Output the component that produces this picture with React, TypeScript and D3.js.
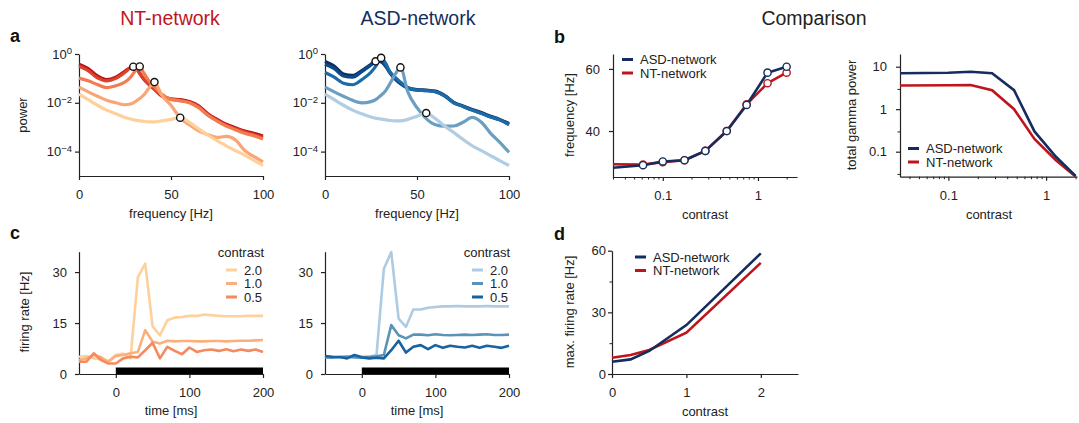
import React, { useEffect, useRef } from "react";
import * as d3 from "d3";

const FONT = "'Liberation Sans', Arial, Helvetica, sans-serif";
const INK = "#222";
const NT_RED = "#c0141c";
const ASD_NAVY = "#142d5e";

// panel a: power spectra (log10 power), one row per contrast, low -> high
const freqs = [0, 5, 10, 15, 20, 25, 28, 30, 33, 35, 38, 41, 45, 50, 55, 60, 65, 70, 75, 80, 85, 90, 95, 100];
const ntLogPower = [
  [-0.42, -0.6, -0.9, -1.05, -0.95, -0.7, -0.55, -0.52, -0.8, -1.02, -1.25, -1.45, -1.73, -1.84, -1.87, -1.95, -2.12, -2.45, -2.68, -2.88, -3.02, -3.16, -3.25, -3.36],
  [-0.5, -0.68, -0.98, -1.1, -1.0, -0.75, -0.57, -0.52, -0.78, -1.0, -1.22, -1.42, -1.7, -1.86, -1.9, -1.98, -2.15, -2.5, -2.72, -2.92, -3.06, -3.2, -3.3, -3.42],
  [-0.99, -1.1, -1.25, -1.38, -1.3, -1.15, -0.95, -0.75, -0.51, -0.75, -1.1, -1.35, -1.65, -1.86, -1.92, -2.0, -2.2, -2.5, -2.75, -2.95, -3.1, -3.25, -3.35, -3.48],
  [-1.36, -1.55, -1.73, -1.9, -2.0, -2.08, -2.05, -1.98, -1.82, -1.7, -1.4, -1.15, -1.7, -2.1, -2.62, -2.9, -3.15, -3.3, -3.42, -3.38, -3.52, -3.95, -4.2, -4.42],
  [-1.64, -1.87, -2.1, -2.3, -2.45, -2.6, -2.66, -2.7, -2.74, -2.76, -2.78, -2.78, -2.74, -2.68, -2.61, -2.8, -3.07, -3.32, -3.55, -3.76, -3.96, -4.14, -4.36, -4.57],
];
const asdLogPower = [
  [-0.31, -0.5, -0.82, -0.88, -0.68, -0.42, -0.27, -0.3, -0.5, -0.72, -1.0, -1.2, -1.38, -1.46, -1.48, -1.52, -1.7, -1.98, -2.13, -2.27, -2.4, -2.55, -2.68, -2.85],
  [-0.42, -0.6, -0.9, -0.95, -0.72, -0.45, -0.28, -0.3, -0.5, -0.75, -1.02, -1.22, -1.4, -1.48, -1.5, -1.55, -1.72, -2.0, -2.15, -2.3, -2.43, -2.58, -2.7, -2.88],
  [-0.76, -0.95, -1.2, -1.26, -1.05, -0.75, -0.45, -0.16, -0.38, -0.7, -0.95, -1.15, -1.38, -1.48, -1.5, -1.55, -1.72, -2.0, -2.15, -2.3, -2.43, -2.58, -2.7, -2.9],
  [-1.36, -1.55, -1.73, -1.9, -2.0, -1.95, -1.85, -1.72, -1.5, -1.25, -0.85, -0.55, -1.55, -2.2, -2.65, -2.9, -2.96, -2.95, -2.8, -2.6, -2.8, -3.25, -3.62, -4.03],
  [-1.64, -1.87, -2.1, -2.3, -2.45, -2.58, -2.64, -2.66, -2.7, -2.72, -2.74, -2.74, -2.68, -2.55, -2.42, -2.65, -2.95, -3.22, -3.5, -3.76, -3.96, -4.17, -4.37, -4.57],
];
const ntPeakFreq = [29.5, 33, 41, 55];
const ntPeakLog = [-0.52, -0.51, -1.15, -2.61];
const asdPeakFreq = [27.5, 30.5, 41, 55];
const asdPeakLog = [-0.3, -0.16, -0.55, -2.42];
const ntColors = ["#b5121b", "#dc4129", "#f27b4f", "#f9a674", "#fdd09c"];
const asdColors = ["#0b2d63", "#0d4b88", "#1c6aa8", "#6b9ec0", "#b0cde3"];

// panel b: peak frequency vs contrast
const contrastB = [0.03, 0.062, 0.1, 0.169, 0.28, 0.47, 0.76, 1.26, 2.0];
const asdPeakHz = [28.2, 29.0, 30.2, 30.6, 33.6, 40.0, 48.4, 58.8, 60.7];
const ntPeakHz = [29.3, 29.2, 30.0, 30.6, 33.6, 40.0, 48.6, 55.4, 58.8];

// panel b right: total gamma power vs contrast
const contrastG = [0.032, 0.1, 0.169, 0.28, 0.47, 0.76, 1.26, 2.0];
const asdGamma = [7.0, 7.2, 7.6, 7.0, 2.8, 0.3, 0.076, 0.027];
const ntGamma = [3.6, 3.65, 3.7, 2.8, 1.0, 0.2, 0.063, 0.026];

// panel c: firing rate over time
const timeMs = [-50, -40, -30, -20, -10, 0, 10, 20, 30, 40, 50, 60, 70, 80, 90, 100, 110, 120, 130, 140, 150, 160, 170, 180, 190, 200];
const contrastLabels = ["2.0", "1.0", "0.5"];
const ntRates = [
  [5.1, 5.3, 4.6, 4.3, 3.8, 5.6, 6.0, 4.6, 28.5, 32.5, 14.0, 11.4, 15.8, 16.6, 16.8, 17.1, 17.1, 17.5, 17.3, 17.1, 17.0, 17.0, 17.0, 17.1, 17.1, 17.1],
  [4.1, 4.6, 5.6, 4.9, 3.6, 5.3, 5.6, 6.1, 6.5, 12.9, 9.5, 9.0, 9.8, 9.6, 9.7, 9.7, 9.6, 9.6, 9.7, 9.7, 9.6, 9.7, 9.8, 9.8, 9.9, 10.0],
  [3.6, 3.6, 6.1, 4.1, 3.1, 3.1, 4.6, 5.1, 4.9, 7.0, 9.2, 4.6, 8.0, 6.8, 5.8, 7.8, 6.5, 7.0, 7.2, 6.8, 7.3, 6.7, 7.2, 6.8, 7.2, 6.5],
];
const asdRates = [
  [5.1, 5.0, 4.9, 5.2, 5.3, 5.1, 5.1, 5.6, 31.0, 35.9, 16.3, 13.9, 19.0, 19.0, 19.5, 19.7, 19.9, 19.9, 20.0, 19.9, 19.9, 19.9, 20.0, 19.9, 19.9, 19.9],
  [4.9, 4.8, 5.0, 5.1, 4.9, 4.8, 5.0, 5.2, 5.6, 14.4, 11.4, 10.5, 11.6, 11.6, 11.4, 11.7, 11.5, 11.4, 11.5, 11.6, 11.5, 11.6, 11.7, 11.5, 11.5, 11.6],
  [5.3, 5.1, 5.0, 4.6, 5.6, 4.9, 4.6, 4.8, 4.6, 7.0, 9.8, 6.3, 8.0, 8.5, 7.3, 8.5, 7.7, 8.3, 8.0, 7.8, 8.3, 7.7, 8.3, 8.0, 7.7, 8.3],
];
const ntRateColors = ["#fdd09c", "#fbb07b", "#f58a5e"];
const asdRateColors = ["#adcbe3", "#5b92b8", "#1763a1"];

// panel d: max firing rate vs contrast
const contrastD = [0, 0.25, 0.5, 1, 2];
const asdMaxRate = [6.0, 7.1, 11.2, 23.8, 58.7];
const ntMaxRate = [7.9, 9.2, 11.7, 20.1, 54.1];

type Sel = d3.Selection<SVGGElement, unknown, null, undefined>;

function styleAxis(g: Sel, fs = 13) {
  g.attr("font-family", FONT).attr("font-size", fs);
  g.select(".domain").attr("stroke", INK).attr("stroke-width", 1.2);
  g.selectAll(".tick line").attr("stroke", INK).attr("stroke-width", 1.2);
  g.selectAll(".tick text").attr("fill", INK);
}

export default function App() {
  const ref = useRef<SVGSVGElement>(null);

  useEffect(() => {
    const svg = d3.select(ref.current as SVGSVGElement);
    svg.selectAll("*").remove();
    const root = svg.append("g") as unknown as Sel;

    const yAxis = (scale: any, x: number, ticks: number[], fmt: (d: any) => string, gap: number, minor: number[] = []) => {
      const g = root.append("g").attr("transform", `translate(${x},0)`)
        .call(d3.axisLeft(scale).tickValues(ticks).tickFormat(fmt as any).tickSize(4).tickPadding(gap - 4).tickSizeOuter(0)) as Sel;
      styleAxis(g);
      if (minor.length) {
        const m = root.append("g").attr("transform", `translate(${x},0)`)
          .call(d3.axisLeft(scale).tickValues(minor).tickFormat(() => "").tickSize(2.5).tickSizeOuter(0)) as Sel;
        m.select(".domain").remove();
        m.selectAll(".tick line").attr("stroke", INK).attr("stroke-width", 1);
      }
      return g;
    };
    const xAxis = (scale: any, y: number, ticks: number[], fmt: (d: any) => string, minor: number[] = []) => {
      const g = root.append("g").attr("transform", `translate(0,${y})`)
        .call(d3.axisBottom(scale).tickValues(ticks).tickFormat(fmt as any).tickSize(4).tickPadding(10).tickSizeOuter(0)) as Sel;
      styleAxis(g);
      if (minor.length) {
        const m = root.append("g").attr("transform", `translate(0,${y})`)
          .call(d3.axisBottom(scale).tickValues(minor).tickFormat(() => "").tickSize(2.5).tickSizeOuter(0)) as Sel;
        m.select(".domain").remove();
        m.selectAll(".tick line").attr("stroke", INK).attr("stroke-width", 1);
      }
      return g;
    };
    const label = (text: string, x: number, y: number, rotate = false, fs = 13) => {
      const t = root.append("text").attr("font-family", FONT).attr("font-size", fs).attr("fill", INK)
        .attr("text-anchor", "middle").text(text);
      if (rotate) t.attr("transform", `translate(${x},${y}) rotate(-90)`);
      else t.attr("x", x).attr("y", y);
    };
    const legend = (x: number, y: number, items: [string, string][], dy: number) => {
      items.forEach(([txt, col], i) => {
        root.append("line").attr("x1", x).attr("x2", x + 11).attr("y1", y + i * dy).attr("y2", y + i * dy)
          .attr("stroke", col).attr("stroke-width", 3);
        root.append("text").attr("x", x + 18).attr("y", y + i * dy).attr("dy", "0.35em")
          .attr("font-family", FONT).attr("font-size", 13).attr("fill", INK).text(txt);
      });
    };
    const letter = (t: string, x: number, y: number) =>
      root.append("text").attr("x", x).attr("y", y).attr("font-family", FONT).attr("font-weight", "bold")
        .attr("font-size", 18).attr("fill", "#111").text(t);

    // titles
    const title = (t: string, x: number, col: string) =>
      root.append("text").attr("x", x).attr("y", 25).attr("text-anchor", "middle").attr("font-family", FONT)
        .attr("font-size", 19.5).attr("fill", col).text(t);
    title("NT-network", 170, NT_RED);
    title("ASD-network", 418, ASD_NAVY);
    title("Comparison", 814, INK);
    letter("a", 10, 42);
    letter("b", 554, 43);
    letter("c", 10, 239);
    letter("d", 554, 240);

    // ---- panel a ----
    const yA = d3.scaleLog().domain([1e-5, 1]).range([176, 54]);
    const supFmt = (g: Sel) => {
      g.selectAll<SVGTextElement, number>(".tick text").each(function (d) {
        const t = d3.select(this);
        const e = Math.round(Math.log10(d));
        t.text(null);
        t.append("tspan").text("10");
        t.append("tspan").attr("dy", "-0.5em").attr("font-size", 9.5).text(e === 0 ? "0" : "\u2212" + -e);
      });
    };
    const spectra = (x0: number, rows: number[][], colors: string[], pf: number[], pl: number[]) => {
      const xA = d3.scaleLinear().domain([0, 100]).range([x0, x0 + 184]);
      xAxis(xA, 176, [0, 50, 100], d3.format("d"));
      supFmt(yAxis(yA, x0, [1, 1e-2, 1e-4], () => "", 7));
      const line = d3.line<number>().x((_, i) => xA(freqs[i])).y((v) => yA(Math.pow(10, v))).curve(d3.curveMonotoneX);
      rows.forEach((r, k) => {
        root.append("path").attr("d", line(r)).attr("fill", "none").attr("stroke", colors[k])
          .attr("stroke-width", 3.2).attr("stroke-linejoin", "round");
      });
      pf.forEach((f, i) => {
        root.append("circle").attr("cx", xA(f)).attr("cy", yA(Math.pow(10, pl[i]))).attr("r", 3.6)
          .attr("fill", "#fff").attr("stroke", "#111").attr("stroke-width", 1.4);
      });
      label("frequency [Hz]", x0 + 92, 218);
    };
    spectra(79, ntLogPower, ntColors, ntPeakFreq, ntPeakLog);
    spectra(325, asdLogPower, asdColors, asdPeakFreq, asdPeakLog);
    label("power", 27, 115, true);

    // ---- panel b: peak frequency ----
    const xB = d3.scaleLog().domain([0.03, 2.57]).range([613, 797]);
    const yB = d3.scaleLinear().domain([25.2, 64.8]).range([177, 54]);
    const minorLog = [0.03, 0.04, 0.05, 0.06, 0.07, 0.08, 0.09, 0.2, 0.3, 0.4, 0.5, 0.6, 0.7, 0.8, 0.9, 2];
    xAxis(xB, 177, [0.1, 1], (d) => String(d), minorLog);
    yAxis(yB, 613, [40, 60], d3.format("d"), 13);
    const lineB = (vals: number[]) =>
      d3.line<number>().x((_, i) => xB(contrastB[i])).y((v) => yB(v))(vals);
    [[ntPeakHz, NT_RED], [asdPeakHz, ASD_NAVY]].forEach(([vals, col]) => {
      root.append("path").attr("d", lineB(vals as number[])).attr("fill", "none").attr("stroke", col as string)
        .attr("stroke-width", 2.6).attr("stroke-linejoin", "round");
      (vals as number[]).forEach((v, i) => {
        if (i === 0) return;
        root.append("circle").attr("cx", xB(contrastB[i])).attr("cy", yB(v)).attr("r", 3.6)
          .attr("fill", "#fff").attr("stroke", col as string).attr("stroke-width", 1.4);
      });
    });
    legend(622, 59.5, [["ASD-network", ASD_NAVY], ["NT-network", NT_RED]], 13.5);
    label("frequency [Hz]", 574, 115, true);
    label("contrast", 705, 219);

    // ---- panel b right: gamma power ----
    const xG = d3.scaleLog().domain([0.032, 2.07]).range([900, 1077]);
    const yG = d3.scaleLog().domain([0.0258, 19.9]).range([176.7, 54]);
    xAxis(xG, 176.7, [0.1, 1], (d) => String(d), minorLog.filter((v) => v > 0.032));
    yAxis(yG, 900, [0.1, 1, 10], (d) => String(d), 13, [0.03, 0.3, 3]);
    const lineG = d3.line<number>().x((_, i) => xG(contrastG[i])).y((v) => yG(v));
    root.append("path").attr("d", lineG(ntGamma)).attr("fill", "none").attr("stroke", NT_RED).attr("stroke-width", 2.6);
    root.append("path").attr("d", lineG(asdGamma)).attr("fill", "none").attr("stroke", ASD_NAVY).attr("stroke-width", 2.6);
    legend(908, 148.5, [["ASD-network", ASD_NAVY], ["NT-network", NT_RED]], 13.5);
    label("total gamma power", 856, 115, true);
    label("contrast", 989, 219);

    // ---- panel c ----
    const yC = d3.scaleLinear().domain([0, 36]).range([374, 251.7]);
    const rates = (x0: number, rows: number[][], colors: string[]) => {
      const xC = d3.scaleLinear().domain([-50, 200]).range([x0, x0 + 184]);
      root.append("rect").attr("x", xC(0)).attr("y", 367.5).attr("width", xC(200) - xC(0)).attr("height", 7).attr("fill", "#000");
      xAxis(xC, 374, [0, 100, 200], d3.format("d"));
      yAxis(yC, x0, [0, 15, 30], d3.format("d"), 12);
      const line = d3.line<number>().x((_, i) => xC(timeMs[i])).y((v) => yC(v));
      rows.forEach((r, k) => {
        root.append("path").attr("d", line(r)).attr("fill", "none").attr("stroke", colors[k])
          .attr("stroke-width", 2.6).attr("stroke-linejoin", "round");
      });
      root.append("text").attr("x", x0 + 185).attr("y", 252).attr("dy", "0.35em").attr("text-anchor", "end")
        .attr("font-family", FONT).attr("font-size", 13).attr("fill", INK).text("contrast");
      legend(x0 + 147, 270, contrastLabels.map((c, i) => [c, colors[i]] as [string, string]), 13.5);
      label("time [ms]", x0 + 92, 415);
    };
    rates(79, ntRates, ntRateColors);
    rates(325, asdRates, asdRateColors);
    label("firing rate [Hz]", 29, 312, true);

    // ---- panel d ----
    const xD = d3.scaleLinear().domain([0, 2.5]).range([612, 798]);
    const yD = d3.scaleLinear().domain([0, 60]).range([374, 250.7]);
    xAxis(xD, 374, [0, 1, 2], d3.format("d"));
    yAxis(yD, 612, [0, 30, 60], d3.format("d"), 6, [15, 45]);
    const lineD = d3.line<number>().x((_, i) => xD(contrastD[i])).y((v) => yD(v));
    root.append("path").attr("d", lineD(ntMaxRate)).attr("fill", "none").attr("stroke", NT_RED).attr("stroke-width", 2.6);
    root.append("path").attr("d", lineD(asdMaxRate)).attr("fill", "none").attr("stroke", ASD_NAVY).attr("stroke-width", 2.6);
    legend(635, 257, [["ASD-network", ASD_NAVY], ["NT-network", NT_RED]], 13.5);
    label("max. firing rate [Hz]", 574, 312, true);
    label("contrast", 705, 416);
  }, []);

  return (
    <svg ref={ref} width={1079} height={423}
      style={{ position: "absolute", left: 0, top: 0, background: "#fff" }} />
  );
}
